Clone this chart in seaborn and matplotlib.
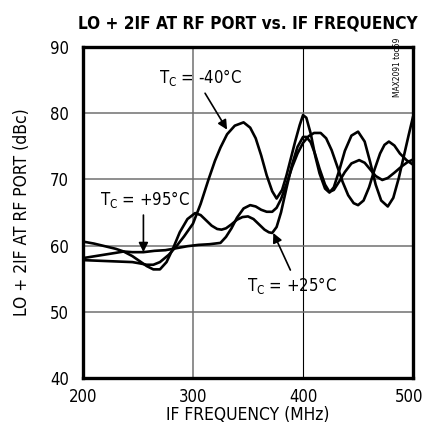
import pandas as pd
import seaborn as sns
import matplotlib
matplotlib.use("Agg")
import matplotlib.pyplot as plt
import matplotlib.transforms as mtransforms

sns.set_style("white")
plt.rcParams['font.family'] = ['DejaVu Sans']
plt.rcParams['font.stretch'] = 'condensed'
for k in ['text.color', 'axes.labelcolor', 'xtick.color', 'ytick.color']:
    plt.rcParams[k] = 'black'

# curves (IF MHz, dBc)
f_m40 = [200, 215, 230, 245, 252, 258, 264, 270, 278, 285, 292, 300, 307, 314, 320, 325, 331, 338, 346, 352,
         357, 362, 367, 372, 376, 381, 385, 389, 393, 397, 400, 403, 407, 411, 415, 420, 424, 428, 433, 438,
         444, 450, 456, 461, 466, 471, 477, 482, 487, 492, 496, 500]
v_m40 = [57.8, 57.7, 57.6, 57.5, 57.3, 57.1, 57.1, 57.5, 58.6, 59.9, 61.4, 63.3, 66.3, 69.9, 72.8, 74.8, 76.8, 78.1, 78.6, 77.8,
         76.2, 73.6, 70.6, 68.2, 67.1, 68.4, 70.6, 73.2, 75.8, 78.2, 79.7, 79.3, 76.9, 73.6, 70.9, 68.6, 68.0, 68.8, 71.4, 74.3,
         76.6, 77.2, 75.7, 72.6, 69.2, 66.8, 65.9, 67.2, 70.2, 73.8, 76.7, 79.5]

f_p95 = [200, 215, 230, 237, 245, 255, 265, 275, 285, 295, 305, 315, 325, 330, 335, 340, 346, 352, 357, 362,
         367, 372, 376, 380, 385, 390, 395, 400, 405, 410, 416, 421, 426, 431, 436, 441, 446, 450, 455, 460,
         465, 470, 474, 478, 483, 488, 494, 500]
v_p95 = [58.1, 58.5, 58.9, 59.1, 59.0, 59.0, 59.2, 59.3, 59.6, 59.9, 60.1, 60.2, 60.4, 61.3, 62.6, 64.2, 65.6, 66.1, 65.9, 65.4,
         65.1, 65.1, 65.7, 67.0, 69.3, 71.8, 73.9, 75.5, 76.5, 77.0, 77.0, 76.2, 74.4, 72.0, 69.6, 67.6, 66.4, 66.1, 66.8, 68.8,
         71.5, 73.9, 75.2, 75.7, 75.1, 73.9, 72.9, 72.2]

f_p25 = [200, 210, 220, 230, 237, 245, 252, 258, 264, 270, 276, 282, 288, 295, 302, 307, 312, 317, 322, 326,
         330, 335, 340, 345, 350, 355, 360, 365, 369, 372, 376, 380, 385, 390, 395, 400, 403, 407, 411, 415,
         420, 424, 428, 433, 438, 444, 451, 456, 461, 466, 472, 477, 483, 490, 495, 500]
v_p25 = [60.6, 60.3, 59.9, 59.5, 59.1, 58.4, 57.6, 56.9, 56.4, 56.4, 57.5, 59.6, 62.0, 64.0, 64.9, 64.6, 63.8, 63.0, 62.5, 62.4,
         62.6, 63.2, 63.9, 64.3, 64.4, 64.0, 63.2, 62.4, 62.0, 61.9, 62.8, 65.0, 68.7, 72.2, 74.9, 76.4, 76.4, 75.6, 73.8, 71.6,
         69.2, 68.1, 68.4, 69.7, 71.1, 72.4, 72.9, 72.5, 71.5, 70.5, 69.9, 70.2, 71.0, 72.0, 72.6, 73.0]

temps = ["-40", "+95", "+25"]
x_ticks = [200, 300, 400, 500]
y_ticks = [40, 50, 60, 70, 80, 90]

df = pd.concat([
    pd.DataFrame({"freq": f_m40, "level": v_m40, "tc": temps[0]}),
    pd.DataFrame({"freq": f_p95, "level": v_p95, "tc": temps[1]}),
    pd.DataFrame({"freq": f_p25, "level": v_p25, "tc": temps[2]}),
])

fig = plt.figure(figsize=(4.25, 4.38), dpi=100)
ax = fig.add_axes([0.195, 0.137, 0.777, 0.756])

ax.grid(True, color="#707070", lw=1.1)
ax.set_axisbelow(True)
sns.lineplot(data=df, x="freq", y="level", hue="tc", palette=["black"] * 3,
             legend=False, linewidth=1.9, ax=ax, sort=False)
ax.get_xgridlines()[2].set_color("black")
ax.get_xgridlines()[2].set_linewidth(0.8)

ax.set_xlim(200, 500)
ax.set_ylim(40, 90)
ax.set_xticks(x_ticks)
ax.set_yticks(y_ticks)
ax.tick_params(length=0, labelsize=12)
ax.tick_params(axis="x", pad=7)
ax.tick_params(axis="y", pad=10)
for s in ax.spines.values():
    s.set_color("black")
    s.set_linewidth(2.4)

# keep the last x label inside the canvas
last = ax.get_xticklabels()[-1]
last.set_transform(last.get_transform() + mtransforms.ScaledTranslation(-3 / 72, 0, fig.dpi_scale_trans))

ax.set_xlabel("IF FREQUENCY (MHz)", fontsize=12.5, labelpad=0)
ax.set_ylabel("LO + 2IF AT RF PORT (dBc)", fontsize=12.5, labelpad=14)
ax.set_title("LO + 2IF AT RF PORT vs. IF FREQUENCY", fontsize=12.3, fontweight="bold", pad=13)

arr = dict(arrowstyle="-|>", color="black", lw=1.2, mutation_scale=14, shrinkA=0, shrinkB=0)
ax.text(307, 85.3, r"$\mathregular{T_C}$ = -40°C", fontsize=12, ha="center", va="center")
ax.annotate("", xy=(331, 77.5), xytext=(311, 83.0), arrowprops=arr)
ax.text(256, 67.0, r"$\mathregular{T_C}$ = +95°C", fontsize=12, ha="center", va="center")
ax.annotate("", xy=(255, 59.0), xytext=(255, 64.6), arrowprops=arr)
ax.text(390, 54.0, r"$\mathregular{T_C}$ = +25°C", fontsize=12, ha="center", va="center")
ax.annotate("", xy=(373, 61.9), xytext=(388.5, 56.3), arrowprops=arr)

fig.text(0.935, 0.913, "MAX2091 toc59", rotation=90, fontsize=6, ha="center", va="top")

fig.savefig("out.png", dpi=100)
